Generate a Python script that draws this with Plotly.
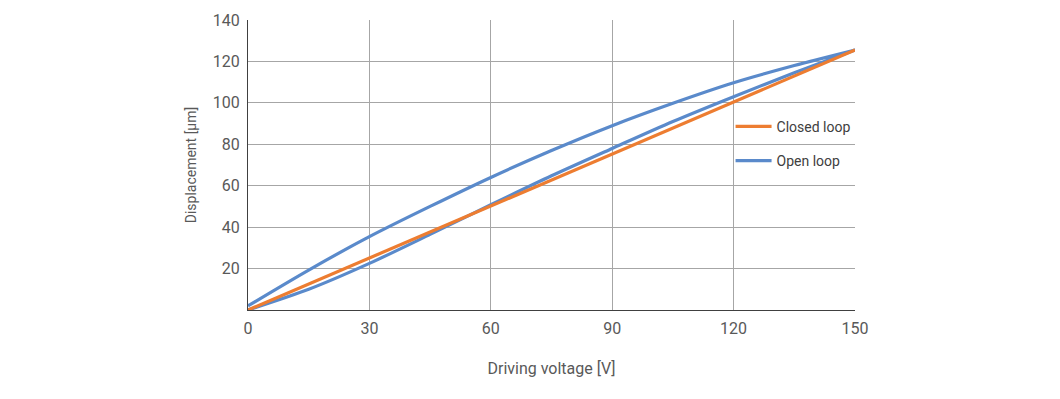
import plotly.graph_objects as go

# Data
closed_x = [0, 30, 60, 90, 120, 150]
closed_y = [0, 25.1, 50.2, 75.3, 100.4, 125.5]

open_up_x = [0, 15, 30, 45, 60, 75, 90, 105, 120, 135, 150]
open_up_y = [0, 10, 22.5, 36.5, 50.8, 64.8, 78, 91, 103, 114.5, 125.5]
open_down_x = [150, 135, 120, 105, 90, 75, 60, 45, 30, 15, 0]
open_down_y = [125.5, 118, 109.7, 99.8, 89, 77, 64, 50, 35.4, 19.3, 2]

open_x = open_up_x + open_down_x
open_y = open_up_y + open_down_y

x_ticks = [0, 30, 60, 90, 120, 150]
y_ticks = [20, 40, 60, 80, 100, 120, 140]

BLUE = "#5A8ACB"
ORANGE = "#ED7D31"
FONT = "Roboto"
TXT = "#595959"

fig = go.Figure()
fig.add_trace(go.Scatter(
    x=open_x, y=open_y, mode="lines", name="Open loop",
    line=dict(color=BLUE, width=3.2, shape="spline", smoothing=0.8),
    legendrank=2, legendgroup="b",
))
fig.add_trace(go.Scatter(
    x=closed_x, y=closed_y, mode="lines", name="Closed loop",
    line=dict(color=ORANGE, width=3.2),
    legendrank=1, legendgroup="a",
))

fig.update_layout(
    width=1060, height=399,
    margin=dict(l=240, r=213, t=12, b=97),
    paper_bgcolor="white", plot_bgcolor="white",
    font=dict(family=FONT, color=TXT),
    showlegend=True,
    legend=dict(
        x=0.795, y=0.687, xanchor="left", yanchor="top",
        font=dict(family=FONT, size=14, color="#404040"),
        bgcolor="rgba(0,0,0,0)", tracegroupgap=13,
        traceorder="grouped", itemwidth=36,
    ),
    xaxis=dict(
        range=[0, 150], tickvals=x_ticks, ticktext=[str(v) for v in x_ticks],
        showgrid=True, gridcolor="#A6A6A6", gridwidth=1,
        showline=True, linecolor="#404040", linewidth=1.3,
        zeroline=False, ticks="", ticklen=0, ticklabelstandoff=4,
        automargin=False,
        tickfont=dict(family=FONT, size=16, color=TXT),
        title=dict(text="Driving voltage [V]", font=dict(family=FONT, size=16, color=TXT), standoff=25),
    ),
    yaxis=dict(
        range=[0, 140], tickvals=y_ticks, ticktext=[str(v) for v in y_ticks],
        showgrid=True, gridcolor="#A6A6A6", gridwidth=1,
        showline=True, linecolor="#404040", linewidth=1.3,
        zeroline=False, ticks="", ticklen=0, ticklabelstandoff=4,
        automargin=False,
        tickfont=dict(family=FONT, size=16, color=TXT),
        title=dict(text="Displacement [µm]", font=dict(family=FONT, size=14, color=TXT), standoff=12),
    ),
)

fig.write_html("out.html")
